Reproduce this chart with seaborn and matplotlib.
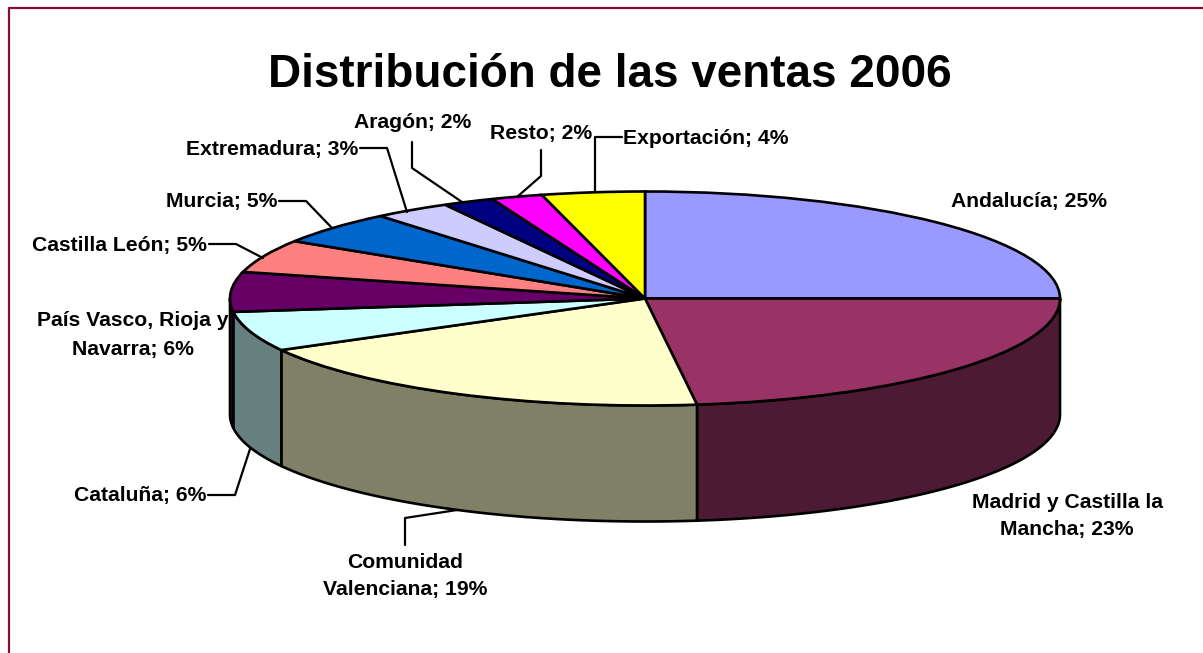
import numpy as np
import matplotlib
matplotlib.use("Agg")
import matplotlib.pyplot as plt
import seaborn as sns

# datos
regiones = ["Andalucía", "Madrid y Castilla la Mancha", "Comunidad Valenciana", "Cataluña",
            "País Vasco, Rioja y Navarra", "Castilla León", "Murcia", "Extremadura",
            "Aragón", "Resto", "Exportación"]
ventas = [25, 23, 19, 6, 6, 5, 5, 3, 2, 2, 4]
colores = ["#9999FF", "#993366", "#FFFFCC", "#CCFFFF", "#660066", "#FF8080",
           "#0066CC", "#CCCCFF", "#000080", "#FF00FF", "#FFFF00"]
titulo = "Distribución de las ventas 2006"

sns.set_theme(style="white")
plt.rcParams['font.family'] = ['Liberation Sans', 'DejaVu Sans']

W, H = 1203, 653
CX, CY, RX, RY, DEPTH = 645, 298.5, 415, 107, 116

fig = plt.figure(figsize=(W / 100, H / 100), dpi=100)
ax = fig.add_axes([0, 0, 1, 1])


# pixeles de la imagen -> datos
def X(px):
    return (px - CX) / RX


def Y(py):
    return (CY - py) / RY


paleta = sns.color_palette(colores)
lw = 1.9

# pared lateral del cilindro
d = DEPTH / RY
acum = np.cumsum([0] + ventas) / sum(ventas) * 360
for i, color in enumerate(paleta):
    a0, a1 = max(acum[i], 90), min(acum[i + 1], 270)
    if a1 <= a0:
        continue
    t = np.radians(np.linspace(a0, a1, 80))
    xs = np.sin(t)
    ys = np.cos(t)
    oscuro = tuple(c * 0.5 for c in color)
    ax.fill(np.r_[xs, xs[::-1]], np.r_[ys, ys[::-1] - d], facecolor=oscuro,
            edgecolor="black", linewidth=lw, joinstyle="round", zorder=1)

# tapa
ax.pie(ventas, colors=paleta, startangle=90, counterclock=False, radius=1, center=(0, 0),
       wedgeprops=dict(edgecolor="black", linewidth=lw), frame=True)
ax.set_aspect("auto")
ax.set_xlim(X(0), X(W))
ax.set_ylim(Y(H), Y(0))
ax.axis("off")

# marco
ax.plot([X(8.5), X(8.5), X(W)], [Y(H), Y(8.5), Y(8.5)], color="#7F0F3F", lw=1.6, clip_on=False)

# lineas guia
guias = [
    [(595, 192), (595, 137), (622, 137)],
    [(517, 197), (541, 176), (541, 150)],
    [(462, 202), (412, 168), (412, 142)],
    [(360, 148), (387, 148), (407, 212)],
    [(279, 201), (306, 201), (332, 228)],
    [(209, 244), (236, 244), (263, 258)],
    [(208, 495), (235, 495), (250, 449)],
    [(405, 545), (405, 518), (457, 510)],
]
for g in guias:
    ax.plot([X(p[0]) for p in g], [Y(p[1]) for p in g], color="black", lw=1.6, zorder=5)

# etiquetas
etiquetas = [
    ("Andalucía; 25%", 951, 202, "left"),
    ("Madrid y Castilla la\nMancha; 23%", 1067, 516, "center"),
    ("Comunidad\nValenciana; 19%", 405, 576, "center"),
    ("Cataluña; 6%", 206, 496, "right"),
    ("País Vasco, Rioja y\nNavarra; 6%", 133, 335, "center"),
    ("Castilla León; 5%", 207, 245, "right"),
    ("Murcia; 5%", 277, 201, "right"),
    ("Extremadura; 3%", 358, 149, "right"),
    ("Aragón; 2%", 471, 123, "right"),
    ("Resto; 2%", 592, 133, "right"),
    ("Exportación; 4%", 623, 139, "left"),
]
for txt, px, py, ha in etiquetas:
    ax.text(X(px), Y(py), txt, ha=ha, va="center", fontsize=15.2, fontweight="bold",
            color="black", linespacing=1.6, zorder=6)

ax.text(X(610), Y(75), titulo, ha="center", va="center", fontsize=33, fontweight="bold",
        color="black", zorder=6)

fig.savefig("out.png", dpi=100, facecolor="white")
